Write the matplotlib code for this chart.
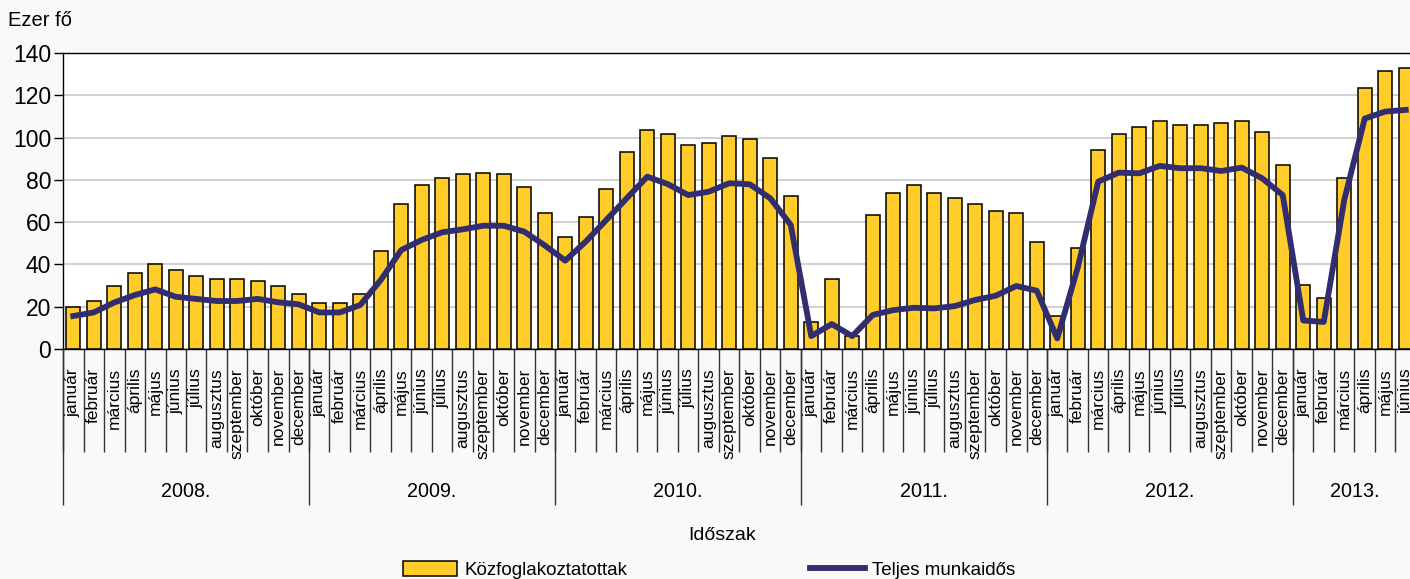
import matplotlib.pyplot as plt
import numpy as np

# havi adatok, ezer fő
honapok = ['január', 'február', 'március', 'április', 'május', 'június',
           'július', 'augusztus', 'szeptember', 'október', 'november', 'december']
evek = ['2008.', '2009.', '2010.', '2011.', '2012.', '2013.']
honapok_szama = [12, 12, 12, 12, 12, 6]

kozfoglalkoztatottak = [
    20.0, 22.7, 29.8, 35.8, 40.0, 37.5, 34.7, 33.1, 33.1, 32.2, 29.8, 26.2,
    21.8, 21.8, 26.0, 46.2, 68.7, 77.4, 81.0, 82.6, 83.4, 82.6, 76.6, 64.3,
    53.0, 62.6, 75.7, 93.0, 103.6, 101.7, 96.5, 97.3, 100.8, 99.2, 90.5, 72.2,
    12.9, 33.1, 6.1, 63.5, 74.0, 77.4, 74.0, 71.3, 68.7, 65.1, 64.3, 50.6,
    15.6, 47.9, 94.0, 101.7, 105.2, 107.8, 106.0, 106.0, 106.9, 107.8, 102.6, 86.9,
    30.4, 24.3, 80.9, 123.5, 131.3, 133.1]

teljes_munkaidos = [
    15.6, 17.3, 22.0, 25.5, 28.2, 24.7, 23.7, 22.7, 22.7, 23.7, 22.1, 21.1,
    17.3, 17.3, 20.8, 32.6, 46.8, 51.6, 55.2, 56.6, 58.3, 58.3, 55.5, 49.0,
    41.8, 50.8, 61.0, 71.3, 81.5, 78.0, 72.8, 74.4, 78.4, 77.9, 71.3, 58.7,
    6.1, 11.8, 6.1, 16.1, 18.4, 19.5, 19.2, 20.3, 23.2, 25.2, 29.8, 27.6,
    5.0, 38.5, 79.2, 83.4, 83.1, 86.6, 85.5, 85.5, 84.2, 85.8, 80.7, 72.8,
    13.5, 12.8, 70.5, 109.0, 112.3, 113.1]

cimkek = []
for n in honapok_szama:
    cimkek += honapok[:n]

sarga = '#FFCC29'
kek = '#312D6E'
hatter = '#FBF8F8'
betu = ['Liberation Sans', 'DejaVu Sans']

fig = plt.figure(figsize=(14.1, 5.79), dpi=100, facecolor=hatter)
ax = fig.add_axes([63 / 1410, 230 / 579, 1353 / 1410, 296 / 579])
ax.set_facecolor('white')

x = np.arange(len(kozfoglalkoztatottak))
oszlopok = ax.bar(x, kozfoglalkoztatottak, width=0.66, color=sarga, edgecolor='black',
                  linewidth=1.1, zorder=2)
vonal, = ax.plot(x, teljes_munkaidos, color=kek, linewidth=4.2, zorder=3,
                 solid_joinstyle='round')

ax.set_xlim(-0.5, len(x) - 0.5)
ax.set_ylim(0, 140)
ax.set_yticks(range(0, 141, 20))
ax.yaxis.grid(True, color='#C4C4C4', linewidth=1.1, zorder=0)
ax.set_axisbelow(True)
ax.tick_params(axis='y', length=6.5, width=1, pad=2, labelsize=16.5)
for t in ax.get_yticklabels():
    t.set_family(betu)
ax.set_xticks([])
for s in ['left', 'bottom', 'top']:
    ax.spines[s].set_color('black')
    ax.spines[s].set_linewidth(1)
ax.spines['right'].set_visible(False)

# honapok es evek elvalasztoi
tr = ax.get_xaxis_transform()
ax.vlines(np.arange(len(x) + 1) - 0.5, -0.348, 0, transform=tr, color='#333333',
          linewidth=1, clip_on=False)
hatarok = np.concatenate([[0], np.cumsum(honapok_szama)]) - 0.5
ax.vlines(hatarok, -0.527, 0, transform=tr, color='#333333', linewidth=1, clip_on=False)

for i, c in enumerate(cimkek):
    ax.text(i, -0.064, c, transform=tr, rotation=90, ha='center', va='top',
            fontsize=12.5, family=betu)

for i, ev in enumerate(evek):
    kozep = (hatarok[i] + hatarok[i + 1]) / 2
    ax.text(kozep, -0.48, ev, transform=tr, ha='center', va='center',
            fontsize=14.2, family=betu)

fig.text(8 / 1410, 1 - 21 / 579, 'Ezer fő', fontsize=14.5, family=betu,
         ha='left', va='center')
fig.text(722 / 1410, 1 - 535 / 579, 'Időszak', fontsize=14, family=betu,
         ha='center', va='center')

fig.legend([oszlopok, vonal], ['Közfoglakoztatottak', 'Teljes munkaidős'],
           loc='center', bbox_to_anchor=(709 / 1410, 1 - 570 / 579), ncol=2,
           frameon=False, prop={'family': betu, 'size': 13.5},
           handlelength=2.9, handleheight=0.8, handletextpad=0.4,
           columnspacing=9.75, borderpad=0)

fig.savefig('out.png', dpi=100, facecolor=hatter)
